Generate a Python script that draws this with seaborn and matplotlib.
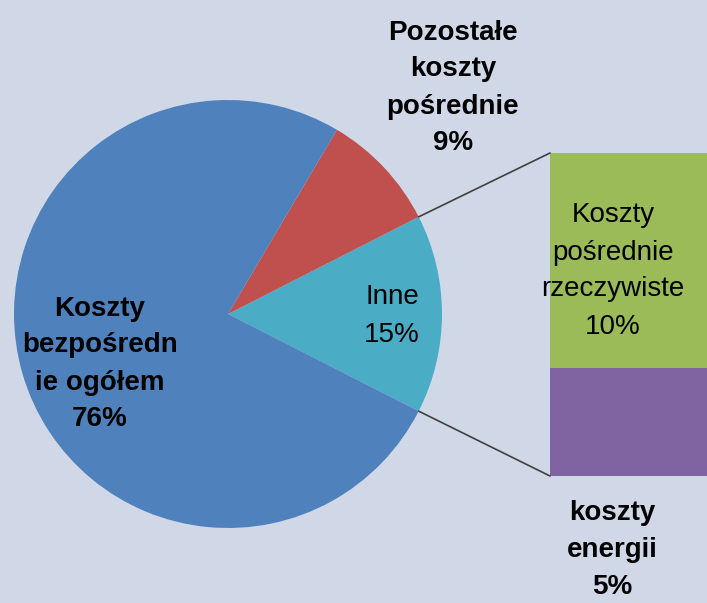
import matplotlib
matplotlib.use("Agg")
import matplotlib.pyplot as plt
import seaborn as sns
import numpy as np

# ---- data ----
pie_labels = ["Inne", "Pozostałe\nkoszty\npośrednie", "Koszty\nbezpośredn\nie ogółem"]
pie_values = [15, 9, 76]
bar_labels = ["koszty\nenergii", "Koszty\npośrednie\nrzeczywiste"]
bar_values = [5, 10]

sns.set_theme(style="white")
plt.rcParams['font.family'] = ['Liberation Sans', 'DejaVu Sans']

bg = "#d0d8e8"
pie_colors = ["#4bacc6", "#c0504d", "#4f81bd"]
bar_colors = ["#8064a2", "#9bbb59"]

W, H = 707, 603
fig = plt.figure(figsize=(W / 100, H / 100), dpi=100)
fig.patch.set_facecolor(bg)

# bar axes (drawn below the main axes)
bx0, bx1 = 550, W
by0, by1 = H - 476, H - 153
bax = fig.add_axes([bx0 / W, by0 / H, (bx1 - bx0) / W, (by1 - by0) / H])
bax.set_zorder(1)
bottom = 0
for v, c in zip(bar_values, bar_colors):
    bax.bar(0, v, bottom=bottom, width=1, color=c, linewidth=0)
    bottom += v
bax.set_xlim(-0.5, 0.5)
bax.set_ylim(0, sum(bar_values))
bax.axis("off")

ax = fig.add_axes([0, 0, 1, 1])
ax.set_zorder(2)
ax.patch.set_alpha(0)
cx, cy, r = 228, H - 314, 214
start = -pie_values[0] / 100 * 360 / 2
wedges, _ = ax.pie(pie_values, colors=pie_colors, startangle=start, counterclock=True,
                   center=(cx, cy), radius=r, frame=True,
                   wedgeprops=dict(linewidth=0))
ax.set_xlim(0, W)
ax.set_ylim(0, H)
ax.set_aspect("equal")
ax.axis("off")

# connectors
a1 = np.deg2rad(start + pie_values[0] / 100 * 360)
a0 = np.deg2rad(start)
ax.plot([cx + r * np.cos(a1), bx0], [cy + r * np.sin(a1), by1], color="#404040", lw=1.2)
ax.plot([cx + r * np.cos(a0), bx0], [cy + r * np.sin(a0), by0], color="#404040", lw=1.2)

fs = 20
ls = 1.55
ax.text(100, H - 364, f"{pie_labels[2]}\n{pie_values[2]}%", ha="center", va="center",
        fontsize=fs, fontweight="bold", linespacing=ls, color="black")
ax.text(392, H - 316, f"{pie_labels[0]}\n{pie_values[0]}%", ha="center", va="center",
        fontsize=fs, linespacing=ls, color="black")
ax.text(453, H - 88, f"{pie_labels[1]}\n{pie_values[1]}%", ha="center", va="center",
        fontsize=fs, fontweight="bold", linespacing=ls, color="black")
ax.text(613, H - 271, f"{bar_labels[1]}\n{bar_values[1]}%", ha="center", va="center",
        fontsize=fs, linespacing=ls, color="black")
ax.text(612, H - 550, f"{bar_labels[0]}\n{bar_values[0]}%", ha="center", va="center",
        fontsize=fs, fontweight="bold", linespacing=ls, color="black")

fig.savefig("out.png", dpi=100, facecolor=bg)
